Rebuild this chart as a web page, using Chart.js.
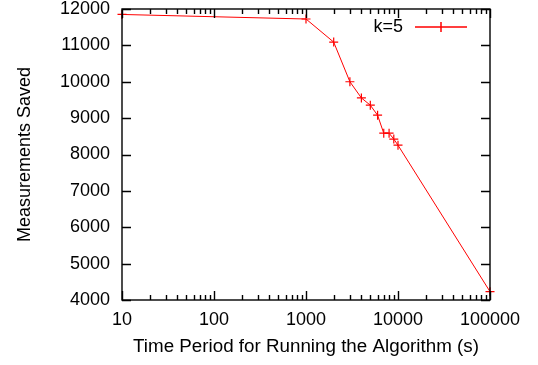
<!DOCTYPE html>
<html>
<head>
<meta charset="utf-8">
<script src="https://cdn.jsdelivr.net/npm/chart.js@4/dist/chart.umd.min.js"></script>
<style>
    html, body { margin: 0; padding: 0; background: #fff; }
    #wrap { width: 538px; height: 365px; position: relative; }
</style>
</head>
<body>
<div id="wrap"><canvas id="savedChart"></canvas></div>
<script>
const periods = [10, 1000, 2000, 3000, 4000, 5000, 6000, 7000, 8000, 9000, 10000, 100000];
const saved = [11850, 11725, 11090, 10000, 9555, 9355, 9080, 8585, 8585, 8425, 8255, 4230];
const seriesName = 'k=5';

const yTicks = [4000, 5000, 6000, 7000, 8000, 9000, 10000, 11000, 12000];
const xDecades = [10, 100, 1000, 10000, 100000];

const FONT = 'Liberation Sans, Arial, Helvetica, sans-serif';
const lineColor = 'rgb(255, 0, 0)';

// gnuplot style frame with inward ticks on all four sides
const framePlugin = {
    id: 'frame',
    afterDraw(chart) {
        const ctx = chart.ctx;
        const { left, right, top, bottom } = chart.chartArea;
        const xs = chart.scales.x, ys = chart.scales.y;

        ctx.save();
        ctx.strokeStyle = '#000';
        ctx.lineWidth = 1.4;
        ctx.beginPath();
        yTicks.forEach(v => {
            const y = Math.round(ys.getPixelForValue(v)) + 0.5;
            ctx.moveTo(left, y); ctx.lineTo(left + 9, y);
            ctx.moveTo(right, y); ctx.lineTo(right - 9, y);
        });
        xDecades.forEach((d, i) => {
            const x = Math.round(xs.getPixelForValue(d)) + 0.5;
            ctx.moveTo(x, bottom); ctx.lineTo(x, bottom - 9);
            ctx.moveTo(x, top); ctx.lineTo(x, top + 9);
            if (i === xDecades.length - 1) return;
            for (let m = 2; m <= 9; m++) {
                const xm = Math.round(xs.getPixelForValue(d * m)) + 0.5;
                ctx.moveTo(xm, bottom); ctx.lineTo(xm, bottom - 5);
                ctx.moveTo(xm, top); ctx.lineTo(xm, top + 5);
            }
        });
        ctx.stroke();
        ctx.strokeRect(left, top, right - left, bottom - top);
        ctx.restore();
    }
};

// key in the top right corner: label, line sample and a "+" marker
const keyPlugin = {
    id: 'key',
    afterDraw(chart) {
        const ctx = chart.ctx;
        const ky = 27;
        ctx.save();
        ctx.fillStyle = '#000';
        ctx.font = '18px ' + FONT;
        ctx.textAlign = 'right';
        ctx.textBaseline = 'middle';
        ctx.fillText(chart.data.datasets[0].label, 403, ky);
        ctx.strokeStyle = lineColor;
        ctx.lineWidth = 1.5;
        ctx.beginPath();
        ctx.moveTo(415, ky); ctx.lineTo(467, ky);
        ctx.moveTo(441, ky - 5); ctx.lineTo(441, ky + 5);
        ctx.moveTo(436, ky); ctx.lineTo(446, ky);
        ctx.stroke();
        ctx.restore();
    }
};

function noPad(s) {
    s.paddingTop = 0; s.paddingBottom = 0;
    s.paddingLeft = 0; s.paddingRight = 0;
}

new Chart(document.getElementById('savedChart'), {
    type: 'line',
    data: {
        datasets: [{
            label: seriesName,
            data: periods.map((p, i) => ({ x: p, y: saved[i] })),
            borderColor: lineColor,
            backgroundColor: lineColor,
            borderWidth: 1,
            pointStyle: 'cross',
            pointRadius: 4.5,
            pointBorderWidth: 1.2,
            pointBorderColor: lineColor,
            tension: 0,
            clip: false
        }]
    },
    options: {
        responsive: true,
        maintainAspectRatio: false,
        animation: false,
        events: [],
        layout: { padding: { top: 9, right: 48, left: 0, bottom: 0 } },
        plugins: {
            legend: { display: false },
            tooltip: { enabled: false }
        },
        scales: {
            x: {
                type: 'logarithmic',
                min: 10,
                max: 100000,
                afterBuildTicks: s => { s.ticks = xDecades.map(v => ({ value: v })); },
                afterFit: s => { s.height = 65; noPad(s); },
                grid: { display: false, drawTicks: false },
                border: { display: false },
                ticks: {
                    autoSkip: false,
                    maxRotation: 0,
                    padding: 9,
                    color: '#000',
                    font: { family: FONT, size: 18 },
                    callback: v => String(v)
                },
                title: {
                    display: true,
                    text: 'Time Period for Running the Algorithm (s)',
                    color: '#000',
                    font: { family: FONT, size: 18.8 },
                    padding: { top: 0, bottom: 7 }
                }
            },
            y: {
                min: 4000,
                max: 12000,
                afterBuildTicks: s => { s.ticks = yTicks.map(v => ({ value: v })); },
                afterFit: s => { s.width = 122; noPad(s); },
                grid: { display: false, drawTicks: false },
                border: { display: false },
                ticks: {
                    padding: 12,
                    color: '#000',
                    font: { family: FONT, size: 18 },
                    callback: v => String(v)
                },
                title: {
                    display: true,
                    text: 'Measurements Saved',
                    color: '#000',
                    font: { family: FONT, size: 18 },
                    padding: { top: 14, bottom: 0 }
                }
            }
        }
    },
    plugins: [framePlugin, keyPlugin]
});
</script>
</body>
</html>
